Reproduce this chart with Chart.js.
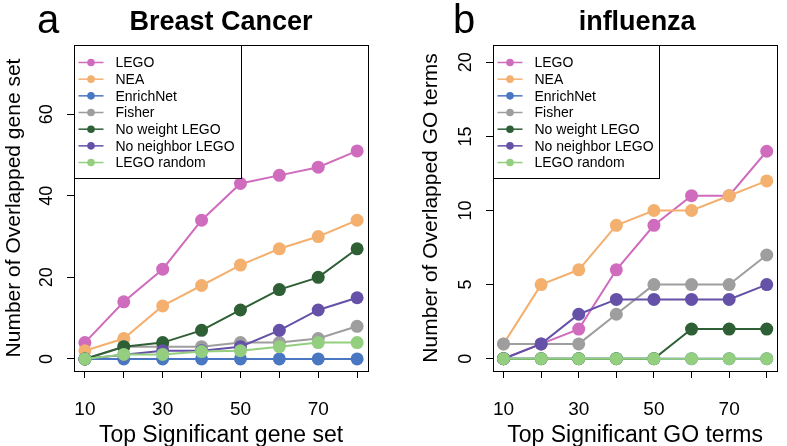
<!DOCTYPE html>
<html>
<head>
<meta charset="utf-8">
<script src="https://cdn.jsdelivr.net/npm/chart.js@4.4.1/dist/chart.umd.min.js"></script>
<style>
  html, body { margin: 0; padding: 0; background: #fff; overflow: hidden; }
  #chartA { position: absolute; left: 0; top: 0; }
  #chartB { position: absolute; left: 393px; top: 0; }
</style>
</head>
<body>
<canvas id="chartA" width="393" height="446"></canvas>
<canvas id="chartB" width="394" height="446"></canvas>
<script>
// series names and colours (legend order)
const methods = ['LEGO', 'NEA', 'EnrichNet', 'Fisher', 'No weight LEGO', 'No neighbor LEGO', 'LEGO random'];
const colors = ['#cf6cbd', '#f4b06f', '#4a77c2', '#9e9e9e', '#2e5f35', '#6651a8', '#93cf7e'];

// x values and which of them get a label
const topN = [10, 20, 30, 40, 50, 60, 70, 80];
const xTickLabels = [10, 30, 50, 70];

// a: Breast Cancer, overlapped gene sets
const breastLEGO = [4, 14, 22, 34, 43, 45, 47, 51];
const breastNEA = [2, 5, 13, 18, 23, 27, 30, 34];
const breastEnrichNet = [0, 0, 0, 0, 0, 0, 0, 0];
const breastFisher = [0, 3, 3, 3, 4, 4, 5, 8];
const breastNoWeight = [0, 3, 4, 7, 12, 17, 20, 27];
const breastNoNeighbor = [0, 1, 2, 2, 3, 7, 12, 15];
const breastRandom = [0, 1.1, 1.1, 1.8, 2, 3, 4, 4];
const breastYTicks = [0, 20, 40, 60];

// b: influenza, overlapped GO terms
const fluLEGO = [0, 1, 2, 6, 9, 11, 11, 14];
const fluNEA = [1, 5, 6, 9, 10, 10, 11, 12];
const fluEnrichNet = [0, 0, 0, 0, 0, 0, 0, 0];
const fluFisher = [1, 1, 1, 3, 5, 5, 5, 7];
const fluNoWeight = [0, 0, 0, 0, 0, 2, 2, 2];
const fluNoNeighbor = [0, 1, 3, 4, 4, 4, 4, 5];
const fluRandom = [0, 0, 0, 0, 0, 0, 0, 0];
const fluYTicks = [0, 5, 10, 15, 20];

const FONT = '"Liberation Sans", Arial, Helvetica, sans-serif';
Chart.defaults.font.family = FONT;
Chart.defaults.color = '#000';

// frame, boxed legend, rotated y tick labels, panel letter and title
const decor = {
  id: 'decor',
  afterDatasetsDraw(chart, args, opts) {
    const { ctx, chartArea: area } = chart;
    ctx.save();

    // legend box in the top-left corner
    const lx = Math.round(area.left) + 0.5, ly = Math.round(area.top) + 0.5;
    ctx.fillStyle = '#fff';
    ctx.fillRect(lx, ly, opts.legendW, opts.legendH);
    ctx.strokeStyle = '#000';
    ctx.lineWidth = 1;
    ctx.strokeRect(lx, ly, opts.legendW, opts.legendH);
    ctx.font = '14px ' + FONT;
    ctx.textBaseline = 'middle';
    ctx.textAlign = 'left';
    chart.data.datasets.forEach((ds, i) => {
      const y = ly + 17 + i * 16.67;
      ctx.strokeStyle = ds.borderColor;
      ctx.lineWidth = 1.5;
      ctx.beginPath();
      ctx.moveTo(lx + 4, y);
      ctx.lineTo(lx + 29, y);
      ctx.stroke();
      ctx.fillStyle = ds.borderColor;
      ctx.beginPath();
      ctx.arc(lx + 16.5, y, 3.8, 0, Math.PI * 2);
      ctx.fill();
      ctx.fillStyle = '#000';
      ctx.fillText(ds.label, lx + 41, y + 1);
    });

    // plot frame
    ctx.strokeStyle = '#000';
    ctx.lineWidth = 1;
    ctx.strokeRect(Math.round(area.left) + 0.5, Math.round(area.top) + 0.5,
      Math.round(area.right - area.left), Math.round(area.bottom - area.top));

    // y tick labels, parallel to the axis
    const ys = chart.scales.y;
    ctx.fillStyle = '#000';
    ctx.font = '18px ' + FONT;
    ctx.textAlign = 'center';
    ctx.textBaseline = 'middle';
    ys.ticks.forEach(t => {
      ctx.save();
      ctx.translate(area.left - 27.5, ys.getPixelForValue(t.value));
      ctx.rotate(-Math.PI / 2);
      ctx.fillText(String(t.value), 0, 1);
      ctx.restore();
    });

    // title and panel letter
    ctx.textBaseline = 'alphabetic';
    ctx.textAlign = 'center';
    ctx.font = 'bold 27px ' + FONT;
    ctx.fillText(opts.title, (area.left + area.right) / 2 + opts.titleShift, 30);
    ctx.textAlign = 'left';
    ctx.font = '40px ' + FONT;
    ctx.fillText(opts.letter, opts.letterX, 33);
    ctx.restore();
  }
};

function makeChart(id, series, yTicks, yMin, yMax, xTitle, yTitle, p) {
  const datasets = series.map((values, i) => ({
    label: methods[i],
    data: values.map((v, j) => ({ x: topN[j], y: v })),
    borderColor: colors[i],
    backgroundColor: colors[i],
    pointBackgroundColor: colors[i],
    pointBorderWidth: 0,
    pointRadius: 6.5,
    pointHoverRadius: 6.5,
    borderWidth: 2,
    tension: 0,
    order: methods.length - i
  }));

  return new Chart(document.getElementById(id), {
    type: 'line',
    data: { datasets },
    options: {
      responsive: false,
      animation: false,
      events: [],
      layout: { padding: { left: 0, right: p.padRight, top: 45, bottom: 0 } },
      plugins: {
        legend: { display: false },
        tooltip: { enabled: false },
        decor: p.decor
      },
      scales: {
        x: {
          type: 'linear',
          min: 7.2,
          max: 82.8,
          afterBuildTicks: s => { s.ticks = topN.map(v => ({ value: v })); },
          afterFit: s => { s.height = 75; },
          ticks: {
            autoSkip: false,
            maxRotation: 0,
            padding: 20,
            font: { size: 19 },
            callback: v => (xTickLabels.includes(v) ? String(v) : '')
          },
          grid: { drawOnChartArea: false, drawTicks: true, tickLength: 7, tickColor: '#000', color: '#000' },
          border: { display: true, color: '#000' },
          title: { display: true, text: xTitle, font: { size: 23, lineHeight: 1 }, padding: { top: 0, bottom: -1 } }
        },
        y: {
          min: yMin,
          max: yMax,
          afterBuildTicks: s => { s.ticks = yTicks.map(v => ({ value: v })); },
          afterFit: s => { s.width = p.yWidth; },
          ticks: { display: false },
          grid: { drawOnChartArea: false, drawTicks: true, tickLength: 7, tickColor: '#000', color: '#000' },
          border: { display: true, color: '#000' },
          title: { display: true, text: yTitle, font: { size: 21 }, padding: { top: p.yTitlePad, bottom: 0 } }
        }
      }
    },
    plugins: [decor]
  });
}

makeChart('chartA',
  [breastLEGO, breastNEA, breastEnrichNet, breastFisher, breastNoWeight, breastNoNeighbor, breastRandom],
  breastYTicks, -2.96, 76.96,
  'Top Significant gene set', 'Number of Overlapped gene set',
  { padRight: 25, yWidth: 74, yTitlePad: 1.4,
    decor: { title: 'Breast Cancer', titleShift: 0, letter: 'a', letterX: 37, legendW: 167, legendH: 133 } });

makeChart('chartB',
  [fluLEGO, fluNEA, fluEnrichNet, fluFisher, fluNoWeight, fluNoNeighbor, fluRandom],
  fluYTicks, -0.83, 21.17,
  'Top Significant GO terms', 'Number of Overlapped GO terms',
  { padRight: 7, yWidth: 100, yTitlePad: 26,
    decor: { title: 'influenza', titleShift: 2, letter: 'b', letterX: 60, legendW: 166, legendH: 133 } });
</script>
</body>
</html>
